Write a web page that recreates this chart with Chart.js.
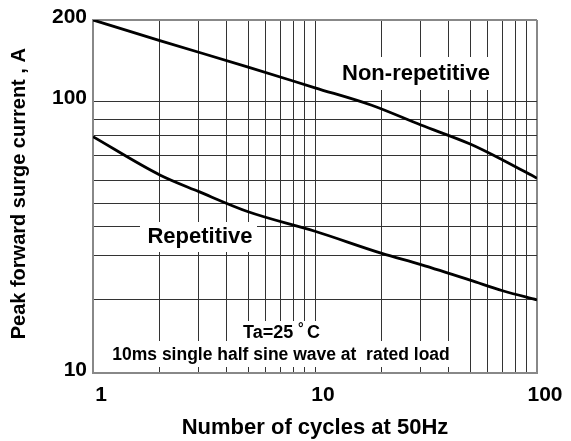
<!DOCTYPE html>
<html>
<head>
<meta charset="utf-8">
<script src="https://cdn.jsdelivr.net/npm/chart.js@4/dist/chart.umd.min.js"></script>
<style>
  html, body { margin: 0; padding: 0; background: #fff; }
  #wrap { width: 571px; height: 441px; }
</style>
</head>
<body>
<div id="wrap"><canvas id="surge"></canvas></div>
<script>
// cycles (x) at which the curves were read
const nonRepCycles = [1, 2, 5, 10, 18, 30, 50, 70, 100];
const nonRepetitive = [200, 168, 134, 112.5, 97, 82, 69.8, 61, 52.2];
const repCycles = [1, 2, 3, 5, 10, 20, 30, 50, 70, 100];
const repetitive = [74.3, 53.7, 46.6, 39.3, 33.3, 27.6, 25.1, 22, 20.1, 18.6];

// grid lines as they sit in the original sheet
const xGrid = [1, 2, 3, 4, 5, 6, 7, 8, 9, 10, 20, 30, 40, 50, 60, 70, 80, 90, 100];
const xLabels = [1, 10, 100];
const yGrid = [10, 18.7, 27.1, 34.6, 42, 51.4, 63.2, 74.9, 86.3, 100, 200];
const yLabels = [10, 100, 200];

const FONT = "'Liberation Sans', Arial, sans-serif";

const toPoints = (xs, ys) => xs.map((x, i) => ({ x: x, y: ys[i] }));

// white boxed notes on top of the grid
const notes = [
    { text: 'Non-repetitive', box: [334, 57, 164, 33], tx: 416, ty: 74, size: 22 },
    { text: 'Repetitive', box: [140, 222, 117, 30], tx: 200, ty: 237, size: 22 },
    { text: '10ms single half sine wave at  rated load', box: [105, 341, 352, 26], tx: 281, ty: 355, size: 17.5 }
];

const notesPlugin = {
    id: 'notes',
    afterDatasetsDraw(chart) {
        const ctx = chart.ctx;
        ctx.save();
        ctx.textBaseline = 'middle';
        notes.forEach(n => {
            ctx.fillStyle = '#fff';
            ctx.fillRect(n.box[0], n.box[1], n.box[2], n.box[3]);
            ctx.fillStyle = '#000';
            ctx.font = 'bold ' + n.size + 'px ' + FONT;
            ctx.textAlign = 'center';
            ctx.fillText(n.text, n.tx, n.ty);
        });
        // Ta=25 °C with a small raised degree sign
        ctx.fillStyle = '#fff';
        ctx.fillRect(238, 321, 86, 20);
        ctx.fillStyle = '#000';
        ctx.textAlign = 'left';
        ctx.font = 'bold 18px ' + FONT;
        ctx.fillText('Ta=25', 243, 333);
        ctx.font = 'bold 14px ' + FONT;
        ctx.fillText('\u00B0', 298, 329);
        ctx.font = 'bold 18px ' + FONT;
        ctx.fillText('C', 307, 333);
        ctx.restore();
    }
};

const gridColor = (edges) => (c) => edges.includes(c.tick && c.tick.value) ? '#888' : '#333';
const gridWidth = (edges) => (c) => edges.includes(c.tick && c.tick.value) ? 2 : 1;

new Chart(document.getElementById('surge'), {
    type: 'line',
    data: {
        datasets: [
            {
                label: 'Non-repetitive',
                data: toPoints(nonRepCycles, nonRepetitive),
                borderColor: '#000',
                borderWidth: 2.8,
                pointRadius: 0,
                cubicInterpolationMode: 'monotone'
            },
            {
                label: 'Repetitive',
                data: toPoints(repCycles, repetitive),
                borderColor: '#000',
                borderWidth: 2.8,
                pointRadius: 0,
                cubicInterpolationMode: 'monotone'
            }
        ]
    },
    options: {
        responsive: true,
        maintainAspectRatio: false,
        animation: false,
        layout: { padding: { top: 20, right: 34, left: 0, bottom: 0 } },
        plugins: {
            legend: { display: false },
            tooltip: { enabled: false }
        },
        scales: {
            x: {
                type: 'logarithmic',
                min: 1,
                max: 100,
                afterBuildTicks: (s) => { s.ticks = xGrid.map(v => ({ value: v })); },
                afterFit: (s) => { s.height = 68; },
                ticks: {
                    autoSkip: false,
                    maxRotation: 0,
                    padding: 10,
                    labelOffset: 8,
                    color: '#000',
                    font: { family: FONT, size: 21, weight: 'bold' },
                    callback: (v) => xLabels.includes(v) ? String(v) : ''
                },
                grid: {
                    drawTicks: false,
                    color: gridColor([100]),
                    lineWidth: gridWidth([100])
                },
                border: { color: '#888', width: 2 },
                title: {
                    display: true,
                    text: 'Number of cycles at 50Hz',
                    color: '#000',
                    font: { family: FONT, size: 22, weight: 'bold' },
                    padding: { top: 0, bottom: 0 }
                }
            },
            y: {
                type: 'logarithmic',
                min: 10,
                max: 200,
                afterBuildTicks: (s) => { s.ticks = yGrid.map(v => ({ value: v })); },
                afterFit: (s) => { s.width = 93; },
                ticks: {
                    autoSkip: false,
                    padding: 6,
                    labelOffset: -3,
                    color: '#000',
                    font: { family: FONT, size: 21, weight: 'bold' },
                    callback: (v) => yLabels.includes(v) ? String(v) : ''
                },
                grid: {
                    drawTicks: false,
                    color: gridColor([200]),
                    lineWidth: gridWidth([200])
                },
                border: { color: '#888', width: 2 },
                title: {
                    display: true,
                    text: ' Peak forward surge current , A',
                    color: '#000',
                    font: { family: FONT, size: 20, weight: 'bold' },
                    padding: { top: 7, bottom: 0 }
                }
            }
        }
    },
    plugins: [notesPlugin]
});
</script>
</body>
</html>
